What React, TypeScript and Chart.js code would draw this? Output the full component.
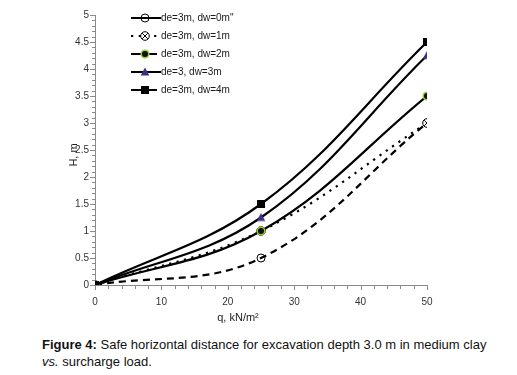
import React, { useEffect, useRef } from 'react';
import { Chart, registerables } from 'chart.js';

Chart.register(...registerables);

const xValues = [0, 25, 50];
const seriesLabels = ['de=3m, dw=0m"', 'de=3m, dw=1m', 'de=3m, dw=2m', 'de=3, dw=3m', 'de=3m, dw=4m'];
const dw0 = [0, 0.5, 3];
const dw1 = [0, 1, 3];
const dw2 = [0, 1, 3.5];
const dw3 = [0, 1.25, 4.25];
const dw4 = [0, 1.5, 4.5];
const xTickStep = 10;
const yTickStep = 0.5;
const xTitle = 'q, kN/m²';
const yTitle = 'H, m';

type MarkerKind = 'openCircle' | 'circleX' | 'dotCircle' | 'triangle' | 'square';

function makeMarker(kind: MarkerKind): HTMLCanvasElement {
  const c = document.createElement('canvas');
  const s = 12;
  c.width = s;
  c.height = s;
  const g = c.getContext('2d')!;
  const m = s / 2;
  g.lineWidth = 1;
  g.strokeStyle = '#000';
  if (kind === 'openCircle') {
    g.beginPath();
    g.arc(m, m, 4, 0, Math.PI * 2);
    g.stroke();
  } else if (kind === 'circleX') {
    g.fillStyle = '#fff';
    g.beginPath();
    g.arc(m, m, 4.3, 0, Math.PI * 2);
    g.fill();
    g.stroke();
    g.beginPath();
    g.moveTo(m - 2.8, m - 2.8);
    g.lineTo(m + 2.8, m + 2.8);
    g.moveTo(m + 2.8, m - 2.8);
    g.lineTo(m - 2.8, m + 2.8);
    g.stroke();
  } else if (kind === 'dotCircle') {
    g.fillStyle = '#111';
    g.strokeStyle = '#9acd32';
    g.lineWidth = 1.5;
    g.beginPath();
    g.arc(m, m, 3.8, 0, Math.PI * 2);
    g.fill();
    g.stroke();
  } else if (kind === 'triangle') {
    g.fillStyle = '#3f2f80';
    g.beginPath();
    g.moveTo(m, m - 4.5);
    g.lineTo(m + 4.3, m + 3.5);
    g.lineTo(m - 4.3, m + 3.5);
    g.closePath();
    g.fill();
  } else {
    g.fillStyle = '#000';
    g.fillRect(m - 4, m - 4, 8, 8);
  }
  return c;
}

const seriesValues = [dw0, dw1, dw2, dw3, dw4];
const seriesMarkers: MarkerKind[] = ['openCircle', 'circleX', 'dotCircle', 'triangle', 'square'];
const seriesDash: number[][] = [[7, 5], [2.2, 5.5], [], [], []];
const legendDash: number[][] = [[], [2.2, 5.5], [], [], []];
const legendLineEnd = [161, 157, 157, 161, 157];

const legendRowsY = [18, 36, 54, 72, 90];

const decorPlugin = {
  id: 'decor',
  afterDraw(chart: any) {
    const ctx = chart.ctx as CanvasRenderingContext2D;
    const xs = chart.scales.x;
    const ys = chart.scales.y;
    const area = chart.chartArea;
    ctx.save();
    ctx.strokeStyle = '#8a8a8a';
    ctx.lineWidth = 1;
    for (let v = 0; v <= 50 + 1e-9; v += 2) {
      const px = Math.round(xs.getPixelForValue(v)) + 0.5;
      const major = Math.abs(v % xTickStep) < 1e-9;
      ctx.beginPath();
      ctx.moveTo(px, area.bottom);
      ctx.lineTo(px, area.bottom + (major ? 5 : 4));
      ctx.stroke();
    }
    for (let i = 0; i <= 50; i++) {
      const v = i / 10;
      const py = Math.round(ys.getPixelForValue(v)) + 0.5;
      const major = i % 5 === 0;
      ctx.beginPath();
      ctx.moveTo(area.left, py);
      ctx.lineTo(area.left - (major ? 5 : 3), py);
      ctx.stroke();
    }
    ctx.fillStyle = '#222';
    ctx.font = '11px "Liberation Sans", Arial, sans-serif';
    ctx.textAlign = 'center';
    ctx.textBaseline = 'middle';
    ctx.fillText(xTitle, 238, 318);
    ctx.save();
    ctx.translate(74, 155);
    ctx.rotate(-Math.PI / 2);
    ctx.fillText(yTitle, 0, 0);
    ctx.restore();
    ctx.font = '10px "Liberation Sans", Arial, sans-serif';
    ctx.textAlign = 'left';
    chart.data.datasets.forEach((ds: any, i: number) => {
      const y = legendRowsY[i];
      ctx.save();
      ctx.strokeStyle = '#000';
      ctx.lineWidth = 2;
      ctx.setLineDash(legendDash[i]);
      ctx.beginPath();
      ctx.moveTo(131, y);
      ctx.lineTo(legendLineEnd[i], y);
      ctx.stroke();
      ctx.restore();
      const img = ds.pointStyle as HTMLCanvasElement;
      ctx.drawImage(img, 145 - img.width / 2, y - img.height / 2);
      ctx.fillStyle = '#1a1a1a';
      ctx.fillText(ds.label, 161, y + 0.5);
    });
    ctx.restore();
  },
};

export default function App() {
  const ref = useRef<HTMLCanvasElement>(null);
  useEffect(() => {
    if (!ref.current) return;
    const datasets = seriesValues.map((vals, i) => ({
      label: seriesLabels[i],
      data: vals.map((y, j) => ({ x: xValues[j], y })),
      borderColor: '#000',
      backgroundColor: '#000',
      borderWidth: 2.2,
      borderDash: seriesDash[i],
      tension: 0.38,
      pointStyle: makeMarker(seriesMarkers[i]),
      pointRadius: 5,
      fill: false,
      order: 5 - i,
    }));
    const tickFont = { size: 10, family: '"Liberation Sans", Arial, sans-serif' };
    const chart = new Chart(ref.current, {
      type: 'line',
      data: { datasets },
      options: {
        animation: false,
        responsive: true,
        maintainAspectRatio: false,
        layout: { padding: { left: 0, right: 90, top: 15, bottom: 0 } },
        plugins: { legend: { display: false }, tooltip: { enabled: false } },
        scales: {
          x: {
            type: 'linear',
            min: 0,
            max: 50,
            ticks: { stepSize: xTickStep, color: '#333', font: tickFont, padding: 11, callback: (v: any) => String(+v) },
            grid: { drawOnChartArea: false, drawTicks: false },
            border: { color: '#8a8a8a', width: 1 },
            afterFit: (s: any) => { s.height = 45; },
          },
          y: {
            type: 'linear',
            min: 0,
            max: 5,
            ticks: { stepSize: yTickStep, color: '#333', font: tickFont, padding: 6, callback: (v: any) => String(Math.round(+v * 10) / 10) },
            grid: { drawOnChartArea: false, drawTicks: false },
            border: { color: '#8a8a8a', width: 1 },
            afterFit: (s: any) => { s.width = 95; },
          },
        },
      },
      plugins: [decorPlugin],
    });
    return () => chart.destroy();
  }, []);

  return (
    <div style={{ position: 'fixed', left: 0, top: 0, width: 517, height: 375, background: '#fff' }}>
      <div style={{ position: 'absolute', left: 0, top: 0, width: 517, height: 330 }}>
        <canvas ref={ref} />
      </div>
      <div
        style={{
          position: 'absolute',
          left: 42,
          top: 336,
          font: '13px "Liberation Sans", Arial, sans-serif',
          lineHeight: '17px',
          color: '#111',
          whiteSpace: 'nowrap',
        }}
      >
        <b>Figure 4:</b> Safe horizontal distance for excavation depth 3.0 m in medium clay
        <br />
        <i>vs.</i> surcharge load.
      </div>
    </div>
  );
}
